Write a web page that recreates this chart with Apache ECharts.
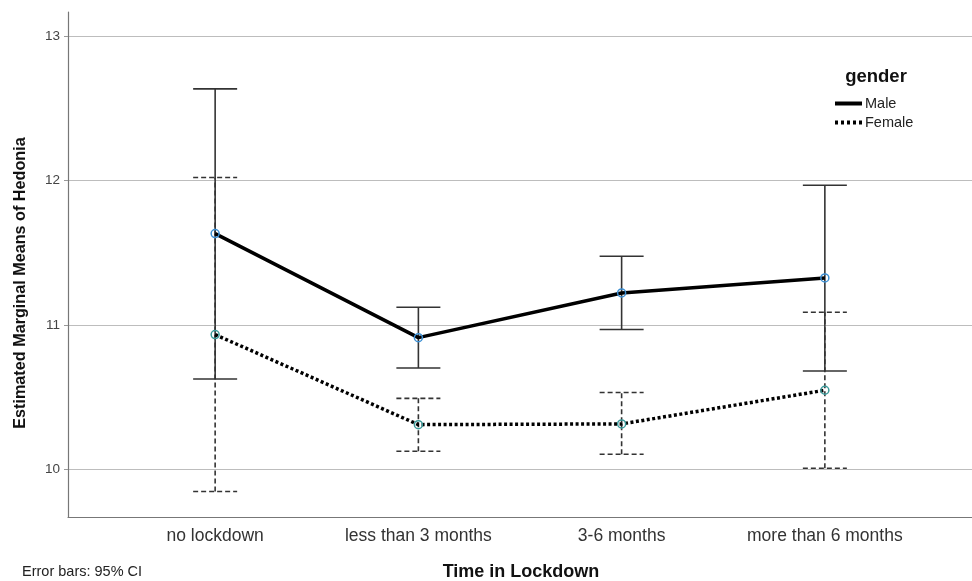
<!DOCTYPE html>
<html>
<head>
<meta charset="utf-8">
<script src="https://cdn.jsdelivr.net/npm/echarts@6/dist/echarts.min.js"></script>
<style>html,body{margin:0;padding:0;background:#fff}#c{width:972px;height:581px}</style>
</head>
<body>
<div id="c"></div>
<script>
var categories = ['no lockdown', 'less than 3 months', '3-6 months', 'more than 6 months'];
var maleMean = [11.633, 10.913, 11.222, 11.326];
var maleLow = [10.627, 10.703, 10.969, 10.682];
var maleHigh = [12.634, 11.123, 11.476, 11.967];
var femaleMean = [10.934, 10.311, 10.316, 10.549];
var femaleLow = [9.848, 10.127, 10.106, 10.009];
var femaleHigh = [12.021, 10.493, 10.533, 11.089];
var yTicks = [10, 11, 12, 13];

var FONT = 'Liberation Sans, Arial, sans-serif';

function pts(arr) { return arr.map(function (v, i) { return [i + 1, v]; }); }
function bars(lo, hi) { return lo.map(function (v, i) { return [i + 1, v, hi[i]]; }); }

function errRender(dashed) {
  return function (params, api) {
    var x = api.value(0);
    var lo = api.coord([x, api.value(1)]);
    var hi = api.coord([x, api.value(2)]);
    var hw = 22;
    var st = { stroke: '#333', lineWidth: 1.6, lineDash: dashed ? [5, 3] : null, fill: null };
    return {
      type: 'group',
      children: [
        { type: 'line', shape: { x1: lo[0], y1: lo[1], x2: hi[0], y2: hi[1] }, style: st },
        { type: 'line', shape: { x1: lo[0] - hw, y1: lo[1], x2: lo[0] + hw, y2: lo[1] }, style: st },
        { type: 'line', shape: { x1: hi[0] - hw, y1: hi[1], x2: hi[0] + hw, y2: hi[1] }, style: st }
      ]
    };
  };
}

var chart = echarts.init(document.getElementById('c'), null, { renderer: 'canvas' });
chart.setOption({
  backgroundColor: '#fff',
  animation: false,
  grid: { left: 68, right: 0, top: 12, bottom: 64, containLabel: false },
  legend: {
    orient: 'vertical', left: 835, top: 96, padding: 0, itemGap: 4,
    itemWidth: 27, itemHeight: 4, selectedMode: false,
    textStyle: { fontFamily: FONT, fontSize: 14.5, color: '#222', padding: [0, 0, 0, -2] },
    data: [
      { name: 'Male', icon: 'path://M0,0L27,0L27,4L0,4Z', itemStyle: { color: '#000', borderWidth: 0 } },
      { name: 'Female', icon: 'path://M0,0L3,0L3,4L0,4ZM6,0L9,0L9,4L6,4ZM12,0L15,0L15,4L12,4ZM18,0L21,0L21,4L18,4ZM24,0L27,0L27,4L24,4Z', itemStyle: { color: '#000', borderWidth: 0 } }
    ]
  },
  graphic: [
    { type: 'text', x: 876, y: 77, style: { text: 'gender', fontFamily: FONT, fontSize: 18.5, fontWeight: 'bold', fill: '#111', align: 'center', verticalAlign: 'middle' } },
    { type: 'text', x: 21, y: 283, rotation: Math.PI / 2, style: { text: 'Estimated Marginal Means of Hedonia', fontFamily: FONT, fontSize: 16.2, fontWeight: 'bold', fill: '#111', align: 'center', verticalAlign: 'middle' } },
    { type: 'text', x: 521, y: 572, style: { text: 'Time in Lockdown', fontFamily: FONT, fontSize: 18, fontWeight: 'bold', fill: '#111', align: 'center', verticalAlign: 'middle' } },
    { type: 'text', x: 22, y: 572, style: { text: 'Error bars: 95% CI', fontFamily: FONT, fontSize: 14.5, fill: '#222', align: 'left', verticalAlign: 'middle' } }
  ],
  xAxis: {
    type: 'value', min: 0.276, max: 4.724, splitNumber: 4,
    axisLine: { show: true, lineStyle: { color: '#777', width: 1.2 } },
    axisTick: { show: false },
    splitLine: { show: false },
    axisLabel: {
      fontFamily: FONT, fontSize: 17.5, color: '#333', margin: 10,
      showMinLabel: false, showMaxLabel: false,
      formatter: function (v) { return (Math.abs(v - Math.round(v)) < 1e-6 && v >= 1 && v <= categories.length) ? categories[Math.round(v) - 1] : ''; }
    }
  },
  yAxis: {
    type: 'value', min: 9.672, max: 13.166, splitNumber: 3,
    axisLine: { show: true, lineStyle: { color: '#777', width: 1.2 } },
    axisTick: { show: true, length: 4, lineStyle: { color: '#999' } },
    splitLine: { show: true, showMinLine: false, showMaxLine: false, lineStyle: { color: '#bdbdbd', width: 1.2 } },
    axisLabel: {
      fontFamily: FONT, fontSize: 13.5, color: '#444', margin: 8,
      showMinLabel: false, showMaxLabel: false,
      formatter: function (v) { return yTicks.indexOf(v) >= 0 ? String(v) : ''; }
    }
  },
  series: [
    { type: 'custom', name: 'femaleCI', renderItem: errRender(true), data: bars(femaleLow, femaleHigh), encode: { x: 0, y: [1, 2] }, z: 1, silent: true },
    { type: 'custom', name: 'maleCI', renderItem: errRender(false), data: bars(maleLow, maleHigh), encode: { x: 0, y: [1, 2] }, z: 2, silent: true },
    {
      type: 'line', name: 'Female', data: pts(femaleMean), z: 3,
      symbol: 'circle', symbolSize: 8, showSymbol: true,
      lineStyle: { color: '#000', width: 3.5, type: [3, 2.5] },
      itemStyle: { color: 'rgba(255,255,255,0)', borderColor: '#3a9a9a', borderWidth: 1.5 }
    },
    {
      type: 'line', name: 'Male', data: pts(maleMean), z: 4,
      symbol: 'circle', symbolSize: 8, showSymbol: true,
      lineStyle: { color: '#000', width: 3.5 },
      itemStyle: { color: 'rgba(255,255,255,0)', borderColor: '#3d90d4', borderWidth: 1.5 }
    }
  ]
});
</script>
</body>
</html>
